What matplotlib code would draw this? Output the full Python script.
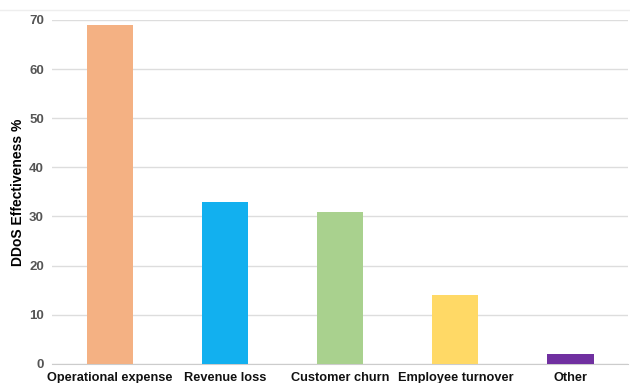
import matplotlib.pyplot as plt
from matplotlib.lines import Line2D

categories = ['Operational expense', 'Revenue loss', 'Customer churn', 'Employee turnover', 'Other']
values = [69, 33, 31, 14, 2]
colors = ['#F4B183', '#12B0EF', '#A9D18E', '#FFD966', '#7030A0']

plt.rcParams['font.family'] = ['Liberation Sans', 'DejaVu Sans']

fig = plt.figure(figsize=(6.3, 3.83), dpi=100)
ax = fig.add_axes([0.083, 0.05, 0.914, 0.898])

x = range(len(categories))
ax.bar(x, values, width=0.4, color=colors, zorder=3)

ax.set_xlim(-0.5, len(categories) - 0.5)
ax.set_ylim(0, 70)
ax.set_yticks(range(0, 71, 10))
ax.set_xticks(list(x))
ax.set_xticklabels(categories, fontsize=9.2, fontweight='bold', color='#111111')
ax.tick_params(axis='y', labelsize=9.5, labelcolor='#555555', length=0, pad=6)
ax.tick_params(axis='x', length=0, pad=6)
for lbl in ax.get_yticklabels():
    lbl.set_fontweight('bold')

ax.yaxis.grid(True, color='#dddddd', linewidth=1, zorder=0)
for s in ['top', 'right', 'left']:
    ax.spines[s].set_visible(False)
ax.spines['bottom'].set_color('#cccccc')

ax.set_ylabel('DDoS Effectiveness %', fontsize=10, fontweight='bold', labelpad=3)

# faint border line near top of the image
fig.add_artist(Line2D([0.0, 1.0], [0.973, 0.973], color='#eeeeee', linewidth=1))

fig.savefig('out.png', dpi=100)
